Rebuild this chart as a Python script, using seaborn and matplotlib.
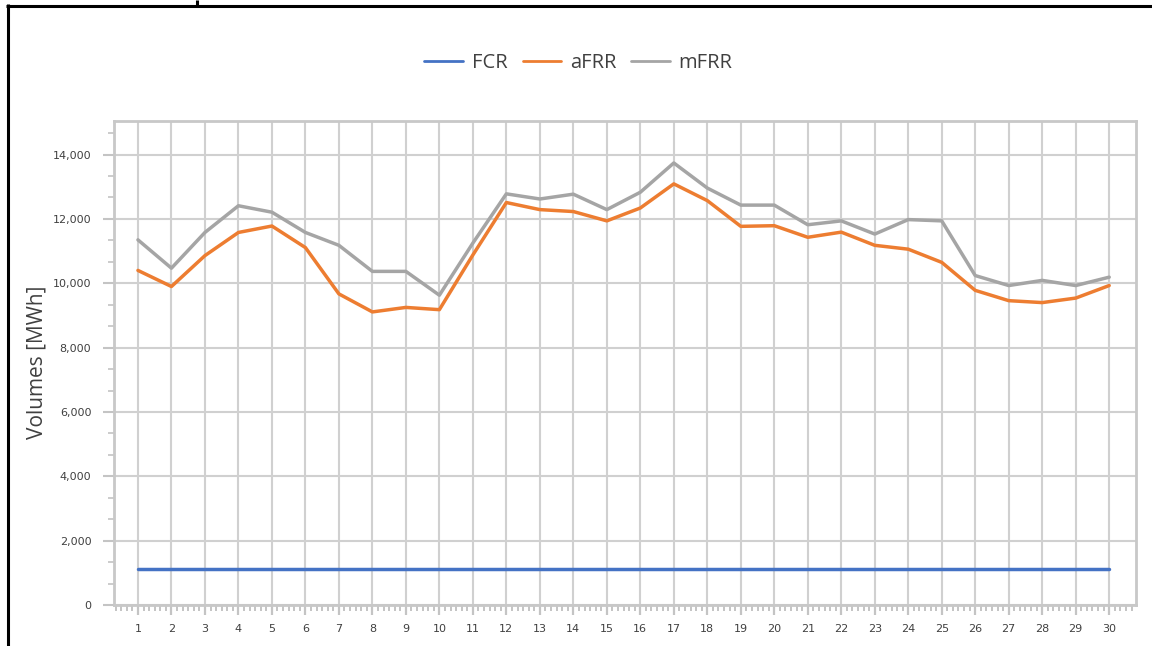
import numpy as np
import pandas as pd
import matplotlib
matplotlib.use("Agg")
import matplotlib.pyplot as plt
from matplotlib.lines import Line2D
from matplotlib.ticker import FixedLocator, FuncFormatter
import seaborn as sns

# Daily balancing reserve volumes (MWh)
days = list(range(1, 31))
fcr = [1125] * 30
afrr = [10400, 9900, 10860, 11580, 11780, 11110, 9670, 9110, 9250, 9180,
        10880, 12510, 12290, 12230, 11940, 12340, 13090, 12570, 11770, 11790,
        11430, 11590, 11180, 11060, 10650, 9780, 9460, 9400, 9540, 9930]
mfrr = [11350, 10470, 11580, 12410, 12210, 11580, 11180, 10370, 10370, 9630,
        11250, 12780, 12620, 12770, 12290, 12830, 13740, 12960, 12430, 12430,
        11820, 11940, 11530, 11980, 11940, 10240, 9930, 10090, 9930, 10190]
series_names = ["FCR", "aFRR", "mFRR"]
colors = ["#4472C4", "#ED7D31", "#A5A5A5"]

df = pd.DataFrame({
    "day": days * 3,
    "volume": fcr + afrr + mfrr,
    "product": sum([[n] * 30 for n in series_names], []),
})

sns.set_theme(style="white")
plt.rcParams["font.family"] = ["DejaVu Sans"]

W, H = 1152, 646
fig = plt.figure(figsize=(W / 100, H / 100), dpi=100)
ax = fig.add_axes([113.5 / W, 1 - 605 / H, (1136 - 113.5) / W, (605 - 120.5) / H])

sns.lineplot(data=df, x="day", y="volume", hue="product", hue_order=series_names,
             palette=colors, linewidth=2.5, ax=ax, legend=True)

grid_c = "#D0D0D0"
tick_c = "#C4C4C4"
ax.set_xlim(0.27, 30.8)
ax.set_ylim(0, 15060)

ax.xaxis.set_major_locator(FixedLocator(days))
ax.xaxis.set_minor_locator(FixedLocator(np.arange(0, 31, 1 / 6)))
ax.yaxis.set_major_locator(FixedLocator(np.arange(0, 14001, 2000)))
ax.yaxis.set_minor_locator(FixedLocator(np.arange(0, 15001, 2000 / 3)))
ax.yaxis.set_major_formatter(FuncFormatter(lambda v, p: f"{int(v):,}"))

ax.grid(True, which="major", color=grid_c, linewidth=1.5)
ax.set_axisbelow(True)
for s in ax.spines.values():
    s.set_color("#C8C8C8")
    s.set_linewidth(2.0)

ax.tick_params(axis="x", which="major", length=7, width=1.6, color=tick_c,
               pad=7, labelsize=8, labelcolor="#404040", bottom=True)
ax.tick_params(axis="x", which="minor", length=4, width=1.4, color=tick_c, bottom=True)
ax.tick_params(axis="y", which="major", length=8, width=1.5, color=tick_c,
               pad=8, labelsize=8, labelcolor="#404040", left=True)
ax.tick_params(axis="y", which="minor", length=4.5, width=1.2, color=tick_c, left=True)

ax.set_xlabel("")
ax.set_ylabel("Volumes [MWh]", fontsize=15, color="#404040", family="Open Sans", labelpad=4)

leg = ax.legend(loc="center", bbox_to_anchor=(578.5 / W, 1 - 63 / H),
                bbox_transform=fig.transFigure, ncol=3, frameon=False,
                prop={"family": "Open Sans", "size": 14.5},
                handlelength=1.9, handletextpad=0.45, columnspacing=0.75)
for t in leg.get_texts():
    t.set_color("#404040")
for ln in leg.get_lines():
    ln.set_linewidth(2.0)

# surrounding frame lines
k = dict(color="black", linewidth=2.2, solid_capstyle="butt")
fig.add_artist(Line2D([6 / W, 1], [1 - 5.5 / H, 1 - 5.5 / H], transform=fig.transFigure, **k))
fig.add_artist(Line2D([7.5 / W, 7.5 / W], [0, 1 - 4 / H], transform=fig.transFigure, **k))
fig.add_artist(Line2D([197 / W, 197 / W], [1 - 5 / H, 1], transform=fig.transFigure, **k))

fig.savefig("out.png", dpi=100)
